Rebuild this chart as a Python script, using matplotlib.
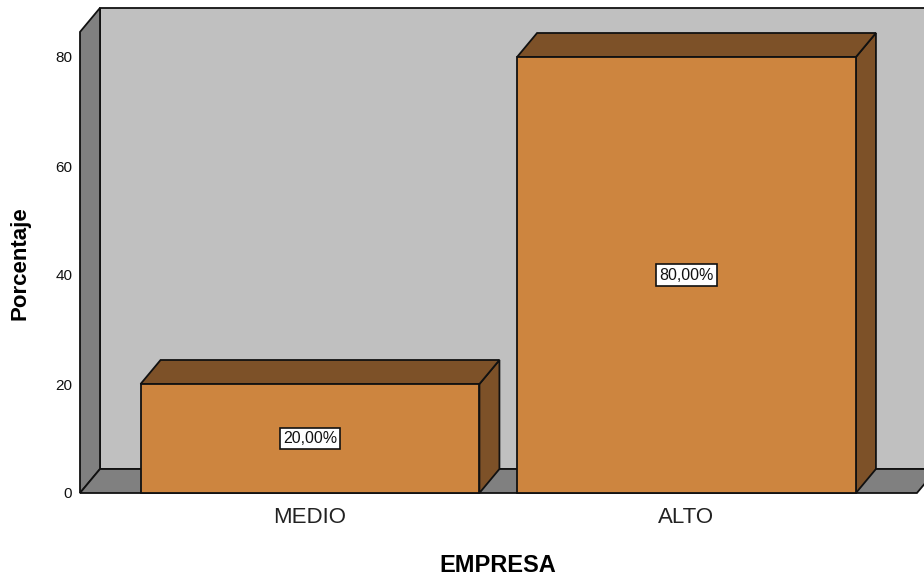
import matplotlib
matplotlib.use("Agg")
import matplotlib.pyplot as plt
from matplotlib.patches import Polygon

plt.rcParams["font.family"] = ["Liberation Sans", "DejaVu Sans"]

# Data
categories = ["MEDIO", "ALTO"]
percentages = [20.0, 80.0]
y_ticks = [0, 20, 40, 60, 80]
x_title = "EMPRESA"
y_title = "Porcentaje"

# Colours
BACK_WALL = "#C0C0C0"
SIDE_WALL = "#808080"
BAR_FRONT = "#CD853F"
BAR_SHADE = "#7D5128"
EDGE = "#111111"
LW = 1.3

W, H, DPI = 924, 576, 100
fig = plt.figure(figsize=(W / DPI, H / DPI), dpi=DPI)

# Plot frame in pixels
left_px, right_px = 80, 924
bottom_px, top_px = 493, 9
px_per_unit = (493 - 57) / 80.0      # vertical pixels per percentage point
px_per_cat = 376.5                   # horizontal pixels between categories
cat0_px = 310.0                      # pixel position of first category

ax = fig.add_axes([left_px / W, (H - bottom_px) / H,
                   (right_px - left_px) / W, (bottom_px - top_px) / H])
x_lo = -(cat0_px - left_px) / px_per_cat
x_hi = x_lo + (right_px - left_px) / px_per_cat
ax.set_xlim(x_lo, x_hi)
ax.set_ylim(0, (bottom_px - top_px) / px_per_unit)
ax.set_facecolor("none")
for s in ax.spines.values():
    s.set_visible(False)

# Depth offset for the pseudo-3D look (in data units)
dx = 20 / px_per_cat
dy = 24 / px_per_unit
wall_top = 84.6
floor_right = 1.612
bar_w = 0.9


def poly(pts, fc, z):
    ax.add_patch(Polygon(pts, closed=True, facecolor=fc, edgecolor=EDGE,
                         linewidth=LW, joinstyle="miter", clip_on=False, zorder=z))


far = x_hi + 0.2
# back wall
poly([(x_lo + dx, dy), (far, dy), (far, wall_top + dy), (x_lo + dx, wall_top + dy)],
     BACK_WALL, 1)
# left wall
poly([(x_lo, 0), (x_lo, wall_top), (x_lo + dx, wall_top + dy), (x_lo + dx, dy)],
     SIDE_WALL, 2)
# floor
poly([(x_lo, 0), (floor_right, 0), (floor_right + dx, dy), (x_lo + dx, dy)],
     SIDE_WALL, 2)

# bars
for i, v in enumerate(percentages):
    x0, x1 = i - bar_w / 2, i + bar_w / 2
    poly([(x1, 0), (x1 + dx, dy), (x1 + dx, v + dy), (x1, v)], BAR_SHADE, 3)
    poly([(x0, v), (x1, v), (x1 + dx, v + dy), (x0 + dx, v + dy)], BAR_SHADE, 3)
    poly([(x0, 0), (x1, 0), (x1, v), (x0, v)], BAR_FRONT, 4)
    label = f"{v:.2f}".replace(".", ",") + "%"
    ax.text(i, v / 2, label, ha="center", va="center", fontsize=11.5, zorder=6,
            color="#111111",
            bbox=dict(boxstyle="square,pad=0.2", facecolor="white",
                      edgecolor=EDGE, linewidth=1.2))

# ticks
ax.set_yticks(y_ticks)
ax.set_yticklabels([str(t) for t in y_ticks], fontsize=11, color="#111111")
ax.tick_params(axis="y", length=0, pad=5.5)
ax.set_xticks(range(len(categories)))
ax.set_xticklabels(categories, fontsize=16, color="#222222")
ax.tick_params(axis="x", length=0, pad=10)

# axis titles
ax.set_xlabel(x_title, fontsize=17, fontweight="bold")
ax.xaxis.set_label_coords((498 - left_px) / (right_px - left_px),
                          (bottom_px - 572) / (bottom_px - top_px))
ax.xaxis.label.set_va("baseline")
ax.set_ylabel(y_title, fontsize=16, fontweight="bold")
ax.yaxis.set_label_coords((20 - left_px) / (right_px - left_px),
                          (bottom_px - 263.5) / (bottom_px - top_px))
ax.yaxis.label.set_va("center")

fig.savefig("out.png", dpi=DPI)
